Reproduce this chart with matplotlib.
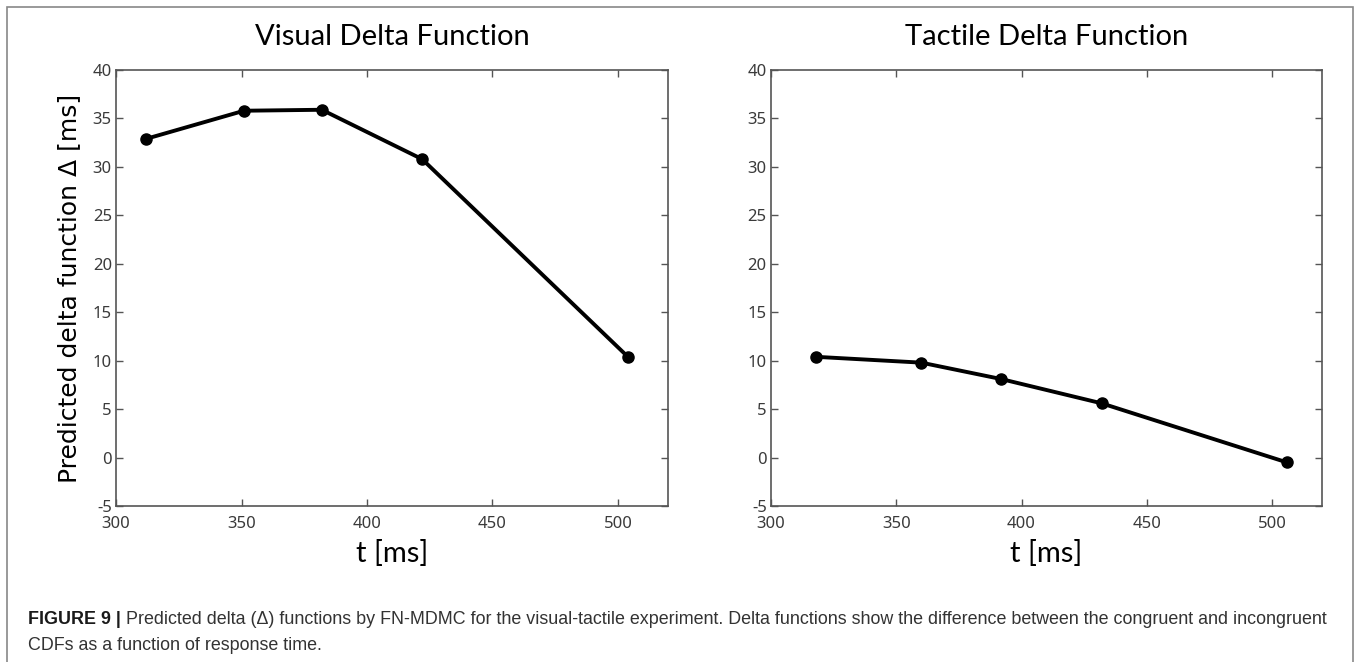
import matplotlib.pyplot as plt
from matplotlib.patches import Rectangle

plt.rcParams['axes.unicode_minus'] = False

# data
t_visual = [312, 351, 382, 422, 504]
d_visual = [32.9, 35.8, 35.9, 30.8, 10.4]
t_tactile = [318, 360, 392, 432, 506]
d_tactile = [10.4, 9.8, 8.1, 5.6, -0.5]

titles = ['Visual Delta Function', 'Tactile Delta Function']
xticks = [300, 350, 400, 450, 500]
yticks = [-5, 0, 5, 10, 15, 20, 25, 30, 35, 40]

fig = plt.figure(figsize=(13.62, 6.62), dpi=100)

ax1 = fig.add_axes([0.0852, 0.2356, 0.4053, 0.6586])
ax2 = fig.add_axes([0.5661, 0.2356, 0.4046, 0.6586])

title_font = ['Lato', 'DejaVu Sans']
tick_font = ['Noto Sans', 'DejaVu Sans']
tick_col = '#3a3a3a'

for ax, t, d, title in [(ax1, t_visual, d_visual, titles[0]),
                        (ax2, t_tactile, d_tactile, titles[1])]:
    ax.plot(t, d, '-o', color='black', lw=2.8, ms=8)
    ax.set_xlim(300, 520)
    ax.set_ylim(-5, 40)
    ax.set_xticks(xticks)
    ax.set_yticks(yticks)
    ax.tick_params(direction='in', top=True, right=True, length=5,
                   width=1, color='#555555', labelcolor=tick_col,
                   labelsize=12, pad=3)
    ax.tick_params(axis='x', pad=7)
    for lab in ax.get_xticklabels() + ax.get_yticklabels():
        lab.set_family(tick_font)
    for sp in ax.spines.values():
        sp.set_color('#555555')
        sp.set_linewidth(1.2)
    ax.set_title(title, fontsize=21, family=title_font, pad=18)
    ax.set_xlabel('t [ms]', fontsize=21, family=title_font, labelpad=6)

ax1.set_ylabel('Predicted delta function Δ [ms]', fontsize=18,
               family='DejaVu Sans', labelpad=8)

# outer frame
fig.patches.append(Rectangle((0.0055, -0.01), 0.988, 0.999,
                             transform=fig.transFigure, fill=False,
                             edgecolor='#888888', lw=1.2))

# caption
cap_font = ['Liberation Sans', 'DejaVu Sans']
cap_size = 12.9
y1 = 1 - 620 / 662
y2 = 1 - 645 / 662
head = fig.text(0.0205, y1, 'FIGURE 9 |', fontsize=cap_size,
                family=cap_font, weight='bold', color='#1a1a1a', va='center')
fig.canvas.draw()
bb = head.get_window_extent().transformed(fig.transFigure.inverted())
fig.text(bb.x1 + 0.004, y1,
         'Predicted delta (Δ) functions by FN-MDMC for the visual-tactile experiment. '
         'Delta functions show the difference between the congruent and incongruent',
         fontsize=cap_size, family=cap_font, color='#333333', va='center')
fig.text(0.0205, y2, 'CDFs as a function of response time.',
         fontsize=cap_size, family=cap_font, color='#333333', va='center')

fig.savefig('out.png', dpi=100)
